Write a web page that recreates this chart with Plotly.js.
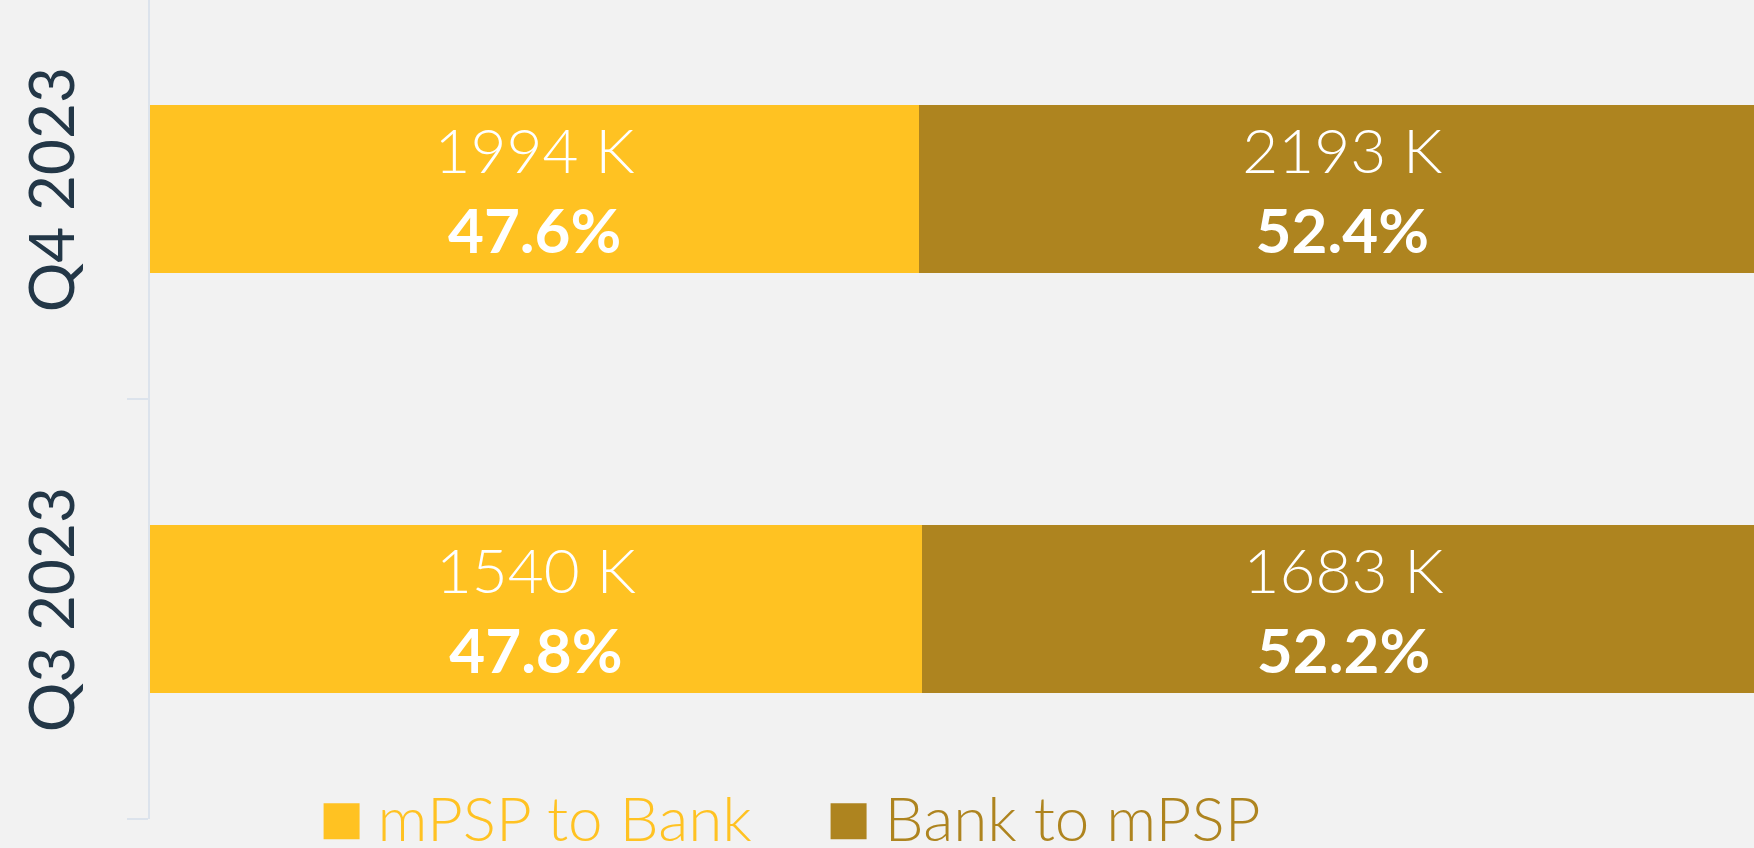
<!DOCTYPE html>
<html>
<head>
<meta charset="utf-8">
<script src="https://cdn.plot.ly/plotly-3.0.1.min.js"></script>
<style>
  html, body { margin: 0; padding: 0; background: #F2F2F2; }
  #chart { width: 1754px; height: 848px; }
</style>
</head>
<body>
<div id="chart"></div>
<script>
// ---- data ----
const categories = ["Q3 2023", "Q4 2023"];
const seriesNames = ["mPSP to Bank", "Bank to mPSP"];
const mpspToBank = [1540, 1994];   // thousands
const bankToMpsp = [1683, 2193];   // thousands
const seriesColors = ["#FFC222", "#AE841F"];

// ---- derived labels ----
const totals = categories.map((c, i) => mpspToBank[i] + bankToMpsp[i]);
function labels(vals) {
  return vals.map((v, i) =>
    v + " K<br><b>" + (100 * v / totals[i]).toFixed(1) + "%</b>");
}

const seriesValues = [mpspToBank, bankToMpsp];
const traces = seriesValues.map((vals, k) => ({
  type: "bar",
  orientation: "h",
  y: categories,
  x: vals,
  name: '<span style="color:' + seriesColors[k] + '">' + seriesNames[k] + '</span>',
  marker: { color: seriesColors[k], line: { width: 0 } },
  text: labels(vals),
  textposition: "inside",
  insidetextanchor: "middle",
  constraintext: "none",
  textangle: 0,
  textfont: { family: "Lato, sans-serif", size: 62, color: "#FFFFFF", weight: 300 },
  hoverinfo: "skip"
}));

const layout = {
  width: 1754,
  height: 848,
  paper_bgcolor: "#F2F2F2",
  plot_bgcolor: "#F2F2F2",
  margin: { l: 150, r: 0, t: 0, b: 29, pad: 0, autoexpand: false },
  barmode: "stack",
  barnorm: "percent",
  bargap: 0.6,
  showlegend: true,
  legend: {
    orientation: "h",
    x: 0.097,
    xanchor: "left",
    y: 0.002,
    yanchor: "middle",
    bgcolor: "rgba(0,0,0,0)",
    font: { family: "Lato, sans-serif", size: 62, weight: 300 },
    itemwidth: 62,
    traceorder: "normal",
    entrywidth: 430
  },
  xaxis: {
    range: [0, 99.3],
    showgrid: false,
    zeroline: false,
    showline: false,
    showticklabels: false,
    ticks: "",
    fixedrange: true
  },
  yaxis: {
    type: "category",
    range: [-0.5, 1.45],
    showgrid: false,
    zeroline: false,
    showline: true,
    linecolor: "#DCE3EC",
    linewidth: 2,
    ticks: "outside",
    tickson: "boundaries",
    ticklen: 21,
    tickwidth: 2,
    tickcolor: "#DCE3EC",
    tickangle: -90,
    ticklabelstandoff: 49,
    ticklabelshift: 10,
    tickfont: { family: "Lato, sans-serif", size: 62, color: "#233747" },
    fixedrange: true
  }
};

Plotly.newPlot("chart", traces, layout, { staticPlot: true, displayModeBar: false }).then(gd => {
  // enlarge legend swatches to match the reference's big squares
  gd.querySelectorAll(".legendpoints path").forEach(p => {
    p.setAttribute("d", "M18,22H-18V-14H18Z");
  });
});
</script>
</body>
</html>
